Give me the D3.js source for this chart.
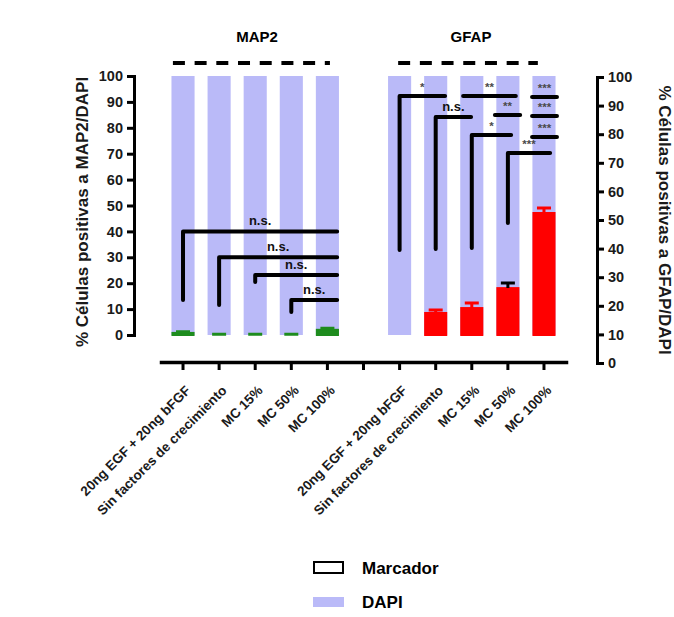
<!DOCTYPE html>
<html>
<head>
<meta charset="utf-8">
<script src="https://cdn.jsdelivr.net/npm/d3@7"></script>
<style>
  body { margin: 0; background: #fff; }
  text { font-family: "Liberation Sans", Arial, sans-serif; font-weight: bold; }
</style>
</head>
<body>
<svg class="chart"></svg>
<script>
var width = 674,
    height = 617

// 11 slots on the x axis: 5 MAP2 groups, an empty gap, 5 GFAP groups
var slots = ["20ng EGF + 20ng bFGF", "Sin factores de crecimiento", "MC 15%", "MC 50%", "MC 100%", "",
             "20ng EGF + 20ng bFGF", "Sin factores de crecimiento", "MC 15%", "MC 50%", "MC 100%"]
var map2Slots = [0, 1, 2, 3, 4]
var gfapSlots = [6, 7, 8, 9, 10]

var dapi = [100, 100, 100, 100, 100]
var map2Mean = [0.8, 0, 0, 0, 2]
var map2Err = [0.5, 0.3, 0.3, 0.3, 0.6]
var gfapMean = [0, 8.5, 10.4, 18.1, 47.1]
var gfapErr = [0, 1.2, 2, 2, 1.9]

var yTicks = [0, 10, 20, 30, 40, 50, 60, 70, 80, 90, 100]

// significance brackets, x in slot units, y in % (left axis)
var map2Brackets = [
    { x0: 0, x1: 4.27, low: 13.5, top: 40, label: "n.s." },
    { x0: 1, x1: 4.27, low: 11.6, top: 30, label: "n.s." },
    { x0: 2, x1: 4.27, low: 20.5, top: 23.2, label: "n.s." },
    { x0: 3, x1: 4.27, low: 8.9, top: 13.5, label: "n.s." }
]
var gfapBrackets = [
    { x0: 6, x1: 7.26, low: 32.8, top: 92.3, label: "*" },
    { x0: 7, x1: 7.98, low: 33.2, top: 84.2, label: "n.s." },
    { x0: 7.76, x1: 9.22, low: null, top: 92.3, label: "**" },
    { x0: 8, x1: 9.09, low: 33.6, top: 77.2, label: "*" },
    { x0: 8.64, x1: 9.34, low: null, top: 84.9, label: "**" },
    { x0: 9, x1: 10.17, low: 43.2, top: 70.3, label: "***" },
    { x0: 9.67, x1: 10.36, low: null, top: 91.9, label: "***" },
    { x0: 9.67, x1: 10.36, low: null, top: 84.6, label: "***" },
    { x0: 9.67, x1: 10.36, low: null, top: 76.4, label: "***" }
]
var dashLines = [
    { x0: -0.28, x1: 4.07, y: 105 },
    { x0: 5.96, x1: 9.83, y: 105 }
]

var dapiColor = "#babaf8",
    red = "#ff0000",
    green = "#1e8c1e"

var chart = d3.select(".chart")
    .attr("width", width)
    .attr("height", height)

var xScale = d3.scaleBand()
    .domain(slots.map((d, i) => "s" + i))
    .range([161, 566])
    .paddingInner(0.36)
    .paddingOuter(0.29)
var bw = xScale.bandwidth()
var xs = i => xScale("s" + i)
var pos = u => xs(0) + bw / 2 + u * xScale.step()

var yL = d3.scaleLinear().domain([0, 100]).range([335, 76])
var yR = d3.scaleLinear().domain([0, 100]).range([363, 77])

// x axis: line and ticks first, labels in a second call
var xLine = chart.append("g")
    .attr("class", "xline")
    .attr("transform", "translate(0,362)")
    .call(d3.axisBottom(xScale).tickSize(8).tickSizeOuter(0).tickFormat(""))
xLine.select(".domain")
    .attr("stroke", "#000")
    .attr("stroke-width", 3.5)
    .attr("stroke-linecap", "square")
xLine.selectAll(".tick line")
    .attr("stroke", "#000")
    .attr("stroke-width", 3)

// DAPI background bars
var allSlots = map2Slots.concat(gfapSlots)
chart.append("g")
    .selectAll("rect")
    .data(allSlots)
    .join("rect")
    .attr("x", d => xs(d))
    .attr("width", bw)
    .attr("y", (d, i) => yL(dapi[i % 5]))
    .attr("height", (d, i) => yL(0) - yL(dapi[i % 5]))
    .attr("fill", dapiColor)

// marker bars with error bars
function markerBars(slotIdx, means, errs, color) {
    var rows = means.map((m, i) => ({ slot: slotIdx[i], mean: m, err: errs[i], i: i }))
        .filter(d => d.mean > 0 || color == green)
    var g = chart.append("g")
    g.selectAll("rect")
        .data(rows)
        .join("rect")
        .attr("x", d => xs(d.slot) + 1)
        .attr("width", bw - 2)
        .attr("y", d => yL(d.mean))
        .attr("height", d => yL(0) - yL(d.mean))
        .attr("fill", color)
        .attr("stroke", color)
        .attr("stroke-width", 2)
    g.selectAll("path")
        .data(rows)
        .join("path")
        .attr("d", d => {
            var cx = xs(d.slot) + bw / 2, hi = yL(d.mean + d.err)
            return `M${cx},${yL(d.mean)}V${hi}M${cx - 7},${hi}H${cx + 7}`
        })
        .attr("stroke", d => color == red && d.i == 3 ? "#000" : color)
        .attr("stroke-width", 3)
        .attr("fill", "none")
}
markerBars(map2Slots, map2Mean, map2Err, green)
markerBars(gfapSlots, gfapMean, gfapErr, red)

// dashed lines at top
chart.append("g")
    .selectAll("line")
    .data(dashLines)
    .join("line")
    .attr("x1", d => pos(d.x0))
    .attr("x2", d => pos(d.x1))
    .attr("y1", d => yL(d.y))
    .attr("y2", d => yL(d.y))
    .attr("stroke", "#000")
    .attr("stroke-width", 4)
    .attr("stroke-dasharray", "12,9.7")

// brackets
function brackets(data, textColor) {
    var g = chart.append("g")
    g.selectAll("path")
        .data(data)
        .join("path")
        .attr("d", d => d.low == null
            ? `M${pos(d.x0)},${yL(d.top)}H${pos(d.x1)}`
            : `M${pos(d.x0)},${yL(d.low)}V${yL(d.top)}H${pos(d.x1)}`)
        .attr("fill", "none")
        .attr("stroke", "#000")
        .attr("stroke-width", 4)
        .attr("stroke-linecap", "round")
        .attr("stroke-linejoin", "round")
    g.selectAll("text")
        .data(data)
        .join("text")
        .attr("x", d => (pos(d.x0) + pos(d.x1)) / 2)
        .attr("y", d => yL(d.top) - (d.label == "n.s." ? 6 : 5))
        .attr("text-anchor", "middle")
        .attr("font-size", d => d.label == "n.s." ? 13 : 11.5)
        .attr("fill", d => d.label == "n.s." ? "#111" : textColor)
        .text(d => d.label)
}
brackets(map2Brackets, "#333")
brackets(gfapBrackets, "#4a4a4a")

// y axes
function styleAxis(g) {
    g.attr("font-size", 14.5)
        .attr("font-family", null)
    g.selectAll(".domain, .tick line").attr("stroke", "#000").attr("stroke-width", 3)
    g.selectAll("text").attr("fill", "#1a1a1a")
}

chart.append("g")
    .attr("transform", "translate(134,0)")
    .call(d3.axisLeft(yL).tickValues(yTicks).tickSize(7).tickPadding(4))
    .call(styleAxis)

chart.append("g")
    .attr("transform", "translate(597,0)")
    .call(d3.axisRight(yR).tickValues(yTicks).tickSize(7).tickPadding(4))
    .call(styleAxis)

// x tick labels
var xLabels = chart.append("g")
    .attr("transform", "translate(0,363)")
    .call(d3.axisBottom(xScale).tickSize(0).tickSizeOuter(0).tickFormat(d => slots[+d.slice(1)]))
xLabels.select(".domain").remove()
xLabels.selectAll(".tick line").remove()
xLabels.selectAll(".tick text")
    .attr("font-size", 13.5)
    .attr("font-family", null)
    .attr("fill", "#1a1a1a")
    .attr("text-anchor", "end")
    .attr("y", 0)
    .attr("dy", "0.35em")
    .attr("transform", "translate(5,25) rotate(-45)")

// titles
chart.append("text")
    .attr("x", 257).attr("y", 42)
    .attr("text-anchor", "middle")
    .attr("font-size", 15)
    .text("MAP2")
chart.append("text")
    .attr("x", 471).attr("y", 42)
    .attr("text-anchor", "middle")
    .attr("font-size", 15)
    .text("GFAP")

chart.append("text")
    .attr("transform", "translate(88,212) rotate(-90)")
    .attr("text-anchor", "middle")
    .attr("font-size", 17)
    .attr("fill", "#1a1a1a")
    .text("% Células positivas a MAP2/DAPI")
chart.append("text")
    .attr("transform", "translate(659,220) rotate(90)")
    .attr("text-anchor", "middle")
    .attr("font-size", 17)
    .attr("fill", "#1a1a1a")
    .text("% Células positivas a GFAP/DAPI")

// legend
var legend = chart.append("g")
legend.append("rect")
    .attr("x", 314).attr("y", 562).attr("width", 29).attr("height", 11)
    .attr("fill", "none").attr("stroke", "#000").attr("stroke-width", 2)
legend.append("rect")
    .attr("x", 313).attr("y", 597).attr("width", 31).attr("height", 10)
    .attr("fill", dapiColor)
legend.append("text")
    .attr("x", 362).attr("y", 574)
    .attr("font-size", 17)
    .text("Marcador")
legend.append("text")
    .attr("x", 362).attr("y", 608)
    .attr("font-size", 17)
    .text("DAPI")
</script>
</body>
</html>
